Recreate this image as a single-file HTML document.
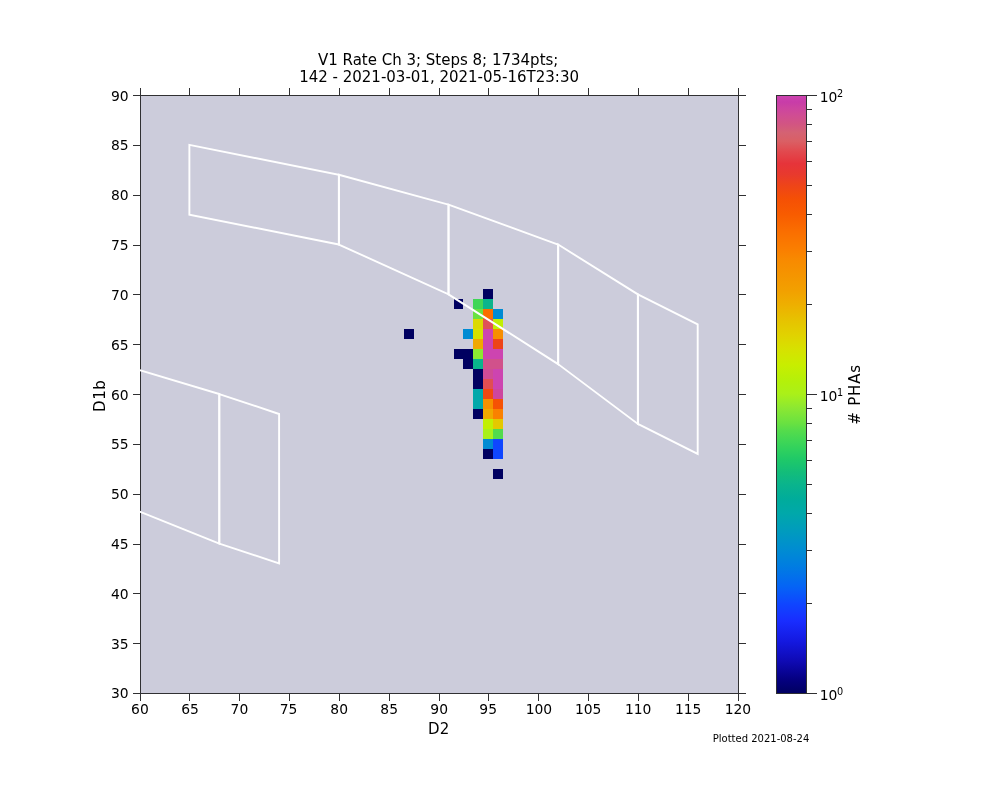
<!DOCTYPE html>
<html><head><meta charset="utf-8"><title>V1 Rate Ch 3</title>
<style>html,body{margin:0;padding:0;background:#fff}svg{display:block}text{font-family:"DejaVu Sans","Liberation Sans",sans-serif;fill:#000}</style></head><body>
<svg width="990" height="792" viewBox="0 0 990 792">
<rect width="990" height="792" fill="#fff"/>
<rect x="140.5" y="95.5" width="598" height="598" fill="#ccccdb"/>
<g shape-rendering="crispEdges">
<rect x="483" y="289" width="10" height="10" fill="#000060"/>
<rect x="454" y="299" width="9" height="10" fill="#000060"/>
<rect x="473" y="299" width="10" height="10" fill="#3fd656"/>
<rect x="483" y="299" width="10" height="10" fill="#0ab48c"/>
<rect x="473" y="309" width="10" height="10" fill="#69e141"/>
<rect x="483" y="309" width="10" height="10" fill="#fa6e00"/>
<rect x="493" y="309" width="10" height="10" fill="#008bd3"/>
<rect x="473" y="319" width="10" height="10" fill="#dcd900"/>
<rect x="483" y="319" width="10" height="10" fill="#df5257"/>
<rect x="493" y="319" width="10" height="10" fill="#c1ef04"/>
<rect x="404" y="329" width="10" height="10" fill="#000060"/>
<rect x="463" y="329" width="10" height="10" fill="#008bd3"/>
<rect x="473" y="329" width="10" height="10" fill="#d5e200"/>
<rect x="483" y="329" width="10" height="10" fill="#cd44b0"/>
<rect x="493" y="329" width="10" height="10" fill="#f78e00"/>
<rect x="473" y="339" width="10" height="10" fill="#f0a800"/>
<rect x="483" y="339" width="10" height="10" fill="#cd44b0"/>
<rect x="493" y="339" width="10" height="10" fill="#ee4418"/>
<rect x="454" y="349" width="9" height="10" fill="#000060"/>
<rect x="463" y="349" width="10" height="10" fill="#000060"/>
<rect x="473" y="349" width="10" height="10" fill="#8ce832"/>
<rect x="483" y="349" width="10" height="10" fill="#cd44b0"/>
<rect x="493" y="349" width="10" height="10" fill="#cd44b0"/>
<rect x="463" y="359" width="10" height="10" fill="#000060"/>
<rect x="473" y="359" width="10" height="10" fill="#0ab48c"/>
<rect x="483" y="359" width="10" height="10" fill="#d1518b"/>
<rect x="493" y="359" width="10" height="10" fill="#d1518b"/>
<rect x="473" y="369" width="10" height="10" fill="#000060"/>
<rect x="483" y="369" width="10" height="10" fill="#cf4b96"/>
<rect x="493" y="369" width="10" height="10" fill="#cd44b0"/>
<rect x="473" y="379" width="10" height="10" fill="#000060"/>
<rect x="483" y="379" width="10" height="10" fill="#e04e53"/>
<rect x="493" y="379" width="10" height="10" fill="#cd44b0"/>
<rect x="473" y="389" width="10" height="10" fill="#00a8aa"/>
<rect x="483" y="389" width="10" height="10" fill="#f14911"/>
<rect x="493" y="389" width="10" height="10" fill="#cd469e"/>
<rect x="473" y="399" width="10" height="10" fill="#00a8aa"/>
<rect x="483" y="399" width="10" height="10" fill="#f69100"/>
<rect x="493" y="399" width="10" height="10" fill="#f65204"/>
<rect x="473" y="409" width="10" height="10" fill="#000060"/>
<rect x="483" y="409" width="10" height="10" fill="#f0a800"/>
<rect x="493" y="409" width="10" height="10" fill="#fa8100"/>
<rect x="483" y="419" width="10" height="10" fill="#c1ef04"/>
<rect x="493" y="419" width="10" height="10" fill="#e4c800"/>
<rect x="483" y="429" width="10" height="10" fill="#a9f01a"/>
<rect x="493" y="429" width="10" height="10" fill="#52db4d"/>
<rect x="483" y="439" width="10" height="10" fill="#008bd3"/>
<rect x="493" y="439" width="10" height="10" fill="#0f46ff"/>
<rect x="483" y="449" width="10" height="10" fill="#000060"/>
<rect x="493" y="449" width="10" height="10" fill="#0f46ff"/>
<rect x="493" y="469" width="10" height="10" fill="#000060"/>
</g>
<g fill="none" stroke="#303032" stroke-width="1" shape-rendering="crispEdges">
<rect x="140.5" y="95.5" width="598" height="598"/>
<path d="M140.5 693.5v7.5M140.5 95.5v-7.5M189.5 693.5v7.5M189.5 95.5v-7.5M239.5 693.5v7.5M239.5 95.5v-7.5M289.5 693.5v7.5M289.5 95.5v-7.5M339.5 693.5v7.5M339.5 95.5v-7.5M389.5 693.5v7.5M389.5 95.5v-7.5M439.5 693.5v7.5M439.5 95.5v-7.5M488.5 693.5v7.5M488.5 95.5v-7.5M538.5 693.5v7.5M538.5 95.5v-7.5M588.5 693.5v7.5M588.5 95.5v-7.5M638.5 693.5v7.5M638.5 95.5v-7.5M688.5 693.5v7.5M688.5 95.5v-7.5M738.5 693.5v7.5M738.5 95.5v-7.5M140.5 693.5h-7.5M738.5 693.5h7.5M140.5 643.5h-7.5M738.5 643.5h7.5M140.5 593.5h-7.5M738.5 593.5h7.5M140.5 544.5h-7.5M738.5 544.5h7.5M140.5 494.5h-7.5M738.5 494.5h7.5M140.5 444.5h-7.5M738.5 444.5h7.5M140.5 394.5h-7.5M738.5 394.5h7.5M140.5 344.5h-7.5M738.5 344.5h7.5M140.5 294.5h-7.5M738.5 294.5h7.5M140.5 245.5h-7.5M738.5 245.5h7.5M140.5 195.5h-7.5M738.5 195.5h7.5M140.5 145.5h-7.5M738.5 145.5h7.5M140.5 95.5h-7.5M738.5 95.5h7.5"/>
</g>
<clipPath id="ax"><rect x="140" y="95" width="599" height="599"/></clipPath>
<g fill="none" stroke="#fff" stroke-width="1.9" stroke-linejoin="miter" stroke-linecap="square" clip-path="url(#ax)">
<path d="M189.39 144.88 L338.89 174.78 L338.89 244.55 L189.39 214.65 Z"/>
<path d="M338.89 174.78 L448.53 204.68 L448.53 294.38 L338.89 244.55 Z"/>
<path d="M448.53 204.68 L558.16 244.55 L558.16 364.15 L448.53 294.38 Z"/>
<path d="M558.16 244.55 L637.89 294.38 L637.89 423.95 L558.16 364.15 Z"/>
<path d="M637.89 294.38 L697.69 324.28 L697.69 453.85 L637.89 423.95 Z"/>
<path d="M39.89 340.23 L219.29 394.05 L219.29 543.55 L39.89 471.79"/>
<path d="M219.29 394.05 L279.09 413.98 L279.09 563.48 L219.29 543.55 Z"/>
</g>
<g font-size="13.89px">
<text x="139.90" y="714" text-anchor="middle">60</text>
<text x="190.00" y="714" text-anchor="middle">65</text>
<text x="239.45" y="714" text-anchor="middle">70</text>
<text x="288.60" y="714" text-anchor="middle">75</text>
<text x="339.20" y="714" text-anchor="middle">80</text>
<text x="389.20" y="714" text-anchor="middle">85</text>
<text x="439.20" y="714" text-anchor="middle">90</text>
<text x="488.20" y="714" text-anchor="middle">95</text>
<text x="538.90" y="714" text-anchor="middle">100</text>
<text x="588.20" y="714" text-anchor="middle">105</text>
<text x="638.20" y="714" text-anchor="middle">110</text>
<text x="688.20" y="714" text-anchor="middle">115</text>
<text x="737.90" y="714" text-anchor="middle">120</text>
<text x="128.6" y="698" text-anchor="end">30</text>
<text x="128.6" y="649" text-anchor="end">35</text>
<text x="128.6" y="599" text-anchor="end">40</text>
<text x="128.6" y="549" text-anchor="end">45</text>
<text x="128.6" y="499" text-anchor="end">50</text>
<text x="128.6" y="449" text-anchor="end">55</text>
<text x="128.6" y="400" text-anchor="end">60</text>
<text x="128.6" y="350" text-anchor="end">65</text>
<text x="128.6" y="300" text-anchor="end">70</text>
<text x="128.6" y="250" text-anchor="end">75</text>
<text x="128.6" y="200" text-anchor="end">80</text>
<text x="128.6" y="150" text-anchor="end">85</text>
<text x="128.6" y="101" text-anchor="end">90</text>
</g>
<text x="438.65" y="733.8" font-size="15px" text-anchor="middle">D2</text>
<text transform="translate(105,395.8) rotate(-90)" font-size="15px" letter-spacing="0.6" text-anchor="middle">D1b</text>
<text x="438.2" y="65.4" font-size="15px" text-anchor="middle">V1 Rate Ch 3; Steps 8; 1734pts;</text>
<text x="439.1" y="82.4" font-size="15px" text-anchor="middle">142 - 2021-03-01, 2021-05-16T23:30</text>
<text x="809.3" y="741.6" font-size="10px" text-anchor="end">Plotted 2021-08-24</text>
<defs><linearGradient id="cb" x1="0" y1="95.5" x2="0" y2="693.5" gradientUnits="userSpaceOnUse">
<stop offset="0.0000" stop-color="#cd44b0"/>
<stop offset="0.0109" stop-color="#c83ca8"/>
<stop offset="0.0229" stop-color="#cd469e"/>
<stop offset="0.0348" stop-color="#d04e91"/>
<stop offset="0.0482" stop-color="#d25582"/>
<stop offset="0.0617" stop-color="#d46273"/>
<stop offset="0.0769" stop-color="#da5f64"/>
<stop offset="0.0921" stop-color="#e14b50"/>
<stop offset="0.1140" stop-color="#e6343a"/>
<stop offset="0.1326" stop-color="#e83a2d"/>
<stop offset="0.1497" stop-color="#ee4419"/>
<stop offset="0.1731" stop-color="#f55005"/>
<stop offset="0.1992" stop-color="#f85c00"/>
<stop offset="0.2273" stop-color="#fa6e00"/>
<stop offset="0.2600" stop-color="#fa8000"/>
<stop offset="0.2751" stop-color="#f88a00"/>
<stop offset="0.2985" stop-color="#f59400"/>
<stop offset="0.3261" stop-color="#f2a000"/>
<stop offset="0.3497" stop-color="#eeaf00"/>
<stop offset="0.3768" stop-color="#e6c300"/>
<stop offset="0.4005" stop-color="#e1d200"/>
<stop offset="0.4239" stop-color="#d7e100"/>
<stop offset="0.4507" stop-color="#c8ee00"/>
<stop offset="0.4781" stop-color="#b4f00a"/>
<stop offset="0.4992" stop-color="#aaf019"/>
<stop offset="0.5226" stop-color="#8ce832"/>
<stop offset="0.5482" stop-color="#69e141"/>
<stop offset="0.5600" stop-color="#55dc4b"/>
<stop offset="0.5761" stop-color="#41d755"/>
<stop offset="0.5938" stop-color="#2dd05f"/>
<stop offset="0.6100" stop-color="#1ec869"/>
<stop offset="0.6276" stop-color="#14be78"/>
<stop offset="0.6502" stop-color="#0ab48c"/>
<stop offset="0.6747" stop-color="#00ac9b"/>
<stop offset="0.6985" stop-color="#00a8aa"/>
<stop offset="0.7289" stop-color="#009bbe"/>
<stop offset="0.7600" stop-color="#008cd2"/>
<stop offset="0.7868" stop-color="#007de1"/>
<stop offset="0.8211" stop-color="#0564f5"/>
<stop offset="0.8497" stop-color="#0f46ff"/>
<stop offset="0.8788" stop-color="#192dff"/>
<stop offset="0.9122" stop-color="#1419e1"/>
<stop offset="0.9457" stop-color="#0f0ab4"/>
<stop offset="0.9758" stop-color="#050082"/>
<stop offset="1.0000" stop-color="#000060"/>
</linearGradient></defs>
<rect x="776.5" y="95.5" width="30" height="598" fill="url(#cb)"/>
<g fill="none" stroke="#303032" stroke-width="1" shape-rendering="crispEdges">
<rect x="776.5" y="95.5" width="30" height="598"/>
<path d="M806.5 693.5h10M806.5 394.5h10M806.5 95.5h10M806.5 603.5h5.5M806.5 550.5h5.5M806.5 513.5h5.5M806.5 484.5h5.5M806.5 460.5h5.5M806.5 440.5h5.5M806.5 423.5h5.5M806.5 408.5h5.5M806.5 304.5h5.5M806.5 251.5h5.5M806.5 214.5h5.5M806.5 185.5h5.5M806.5 161.5h5.5M806.5 141.5h5.5M806.5 124.5h5.5M806.5 109.5h5.5"/>
</g>
<text x="819.8" y="700.0" font-size="13.89px">10<tspan dy="-5" dx="-0.5" font-size="9.72px">0</tspan></text>
<text x="819.8" y="401.0" font-size="13.89px">10<tspan dy="-5" dx="-0.5" font-size="9.72px">1</tspan></text>
<text x="819.8" y="102.0" font-size="13.89px">10<tspan dy="-5" dx="-0.5" font-size="9.72px">2</tspan></text>
<text transform="translate(860,394.4) rotate(-90)" font-size="15px" letter-spacing="0.8" text-anchor="middle"># PHAs</text>
</svg></body></html>
